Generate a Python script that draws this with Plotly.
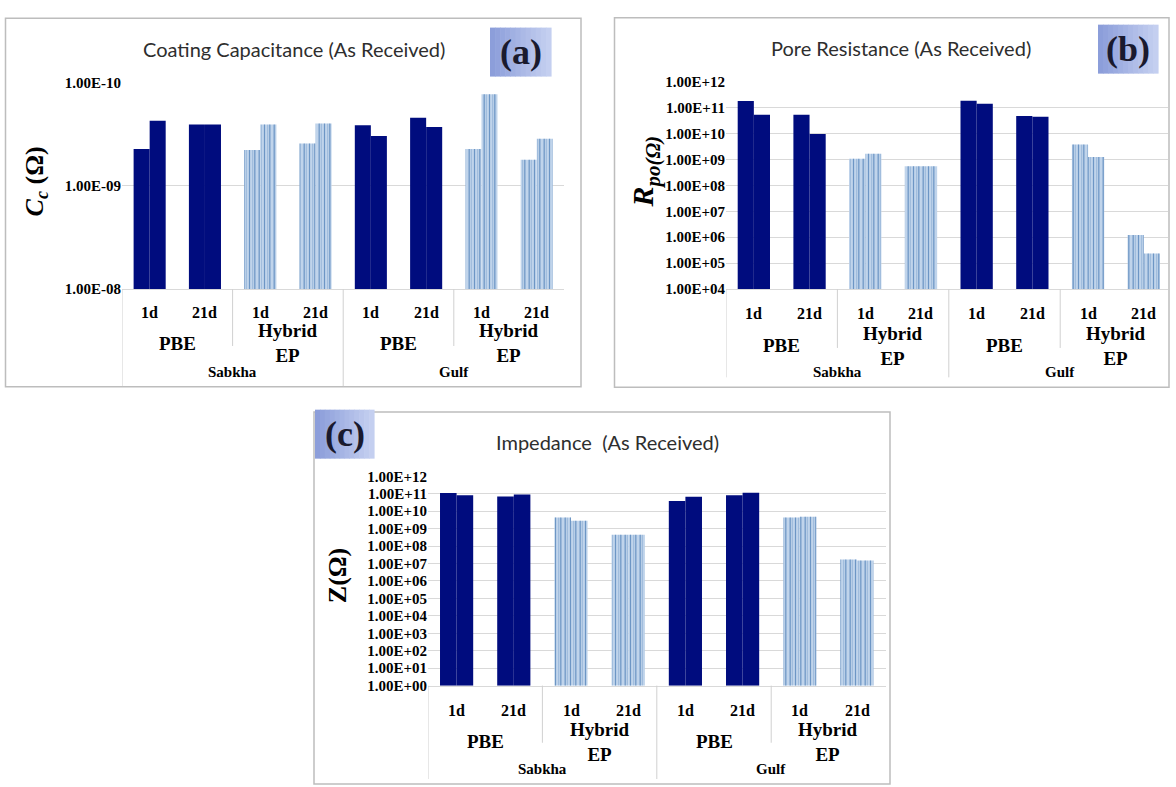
import plotly.graph_objects as go

W, H = 1176, 787

# Category structure (three-level axis: day / coating / exposure site)
days = ["1d", "21d", "1d", "21d", "1d", "21d", "1d", "21d"]
coatings = ["PBE", "Hybrid<br>EP", "PBE", "Hybrid<br>EP"]
sites = ["Sabkha", "Gulf"]
is_pbe = [True, True, False, False, True, True, False, False]

# Coating capacitance, two specimens per condition
cc_spec1 = [4.4e-10, 2.55e-10, 4.5e-10, 3.9e-10, 2.6e-10, 2.2e-10, 4.4e-10, 5.6e-10]
cc_spec2 = [2.35e-10, 2.55e-10, 2.55e-10, 2.5e-10, 3.3e-10, 2.7e-10, 1.3e-10, 3.5e-10]

# Pore resistance (ohm)
rpo_spec1 = [1.76e11, 5.2e10, 1.05e9, 5.4e8, 1.8e11, 4.65e10, 3.7e9, 1.23e6]
rpo_spec2 = [5.2e10, 9.4e9, 1.66e9, 5.4e8, 1.39e11, 4.4e10, 1.24e9, 2.35e5]

# Impedance modulus (ohm)
z_spec1 = [1.11e11, 6.9e10, 4.4e9, 4.4e8, 3.8e10, 8.2e10, 4.4e9, 1.7e7]
z_spec2 = [8.2e10, 8.9e10, 2.85e9, 4.4e8, 6.6e10, 1.15e11, 4.8e9, 1.5e7]

NAVY = "#000c7e"
HYB_BG = "#c9dbef"
HYB_FG1 = "#7a9fcc"
HYB_FG2 = "#3a6fae"
GRID = "#d9d9d9"
FRAME = "#bdbdbd"
SERIF = "Liberation Serif"
SANS = "Lato"
BAR_W = 0.29
CLEAR = "rgba(0,0,0,0)"


def fx(x):
    return x / W


def fy(y):
    return 1 - y / H


def label(text, x, y, size, family=SERIF, color="black", xref="paper", angle=0):
    return dict(text=text, x=x, y=y, xref=xref, yref="paper", showarrow=False,
                xanchor="center", yanchor="middle", textangle=angle,
                font=dict(family=family, size=size, color=color))


panels = [
    dict(tag="(a)", title="Coating Capacitance (As Received)",
         ytitle="<b><i>C<sub>c</sub></i> (Ω)</b>", ytitle_size=26,
         spec1=cc_spec1, spec2=cc_spec2, base=1e-8, exps=[-10, -9, -8],
         yrange=[-8, -10], left=122, step=55.3, right=564.4, top=76, bottom=287,
         frame=(5.5, 10.5, 581, 386.5), box=(490, 20, 551, 70),
         title_xy=(294, 42), ytitle_xy=(36, 177),
         row_day=311, row_coat=342, row_site=372, part_div=345, full_div=386),
    dict(tag="(b)", title="Pore Resistance (As Received)",
         ytitle="<b><i>R<sub>po(Ω)</sub></i></b>", ytitle_size=30,
         spec1=rpo_spec1, spec2=rpo_spec2, base=1e4, exps=list(range(4, 13)),
         yrange=[4, 12], left=726, step=55.7, right=1168, top=75, bottom=287,
         frame=(614.5, 10, 1169, 387), box=(1098, 17, 1158, 67),
         title_xy=(901, 41), ytitle_xy=(645, 167),
         row_day=312, row_coat=345, row_site=372, part_div=347, full_div=377),
    dict(tag="(c)", title="Impedance&nbsp; (As Received)",
         ytitle="<b>Z(Ω)</b>", ytitle_size=26,
         spec1=z_spec1, spec2=z_spec2, base=1.0, exps=list(range(0, 13)),
         yrange=[0, 12], left=428, step=57.2, right=885.6, top=478, bottom=691.7,
         frame=(314, 412.5, 890, 792), box=(315, 410, 374, 460),
         title_xy=(607, 443), ytitle_xy=(337, 580),
         row_day=717, row_coat=749, row_site=777, part_div=750, full_div=787),
]

fig = go.Figure()
shapes = []
annotations = []

for k, p in enumerate(panels):
    sfx = "" if k == 0 else str(k + 1)
    xref, yref = "x" + sfx, "y" + sfx
    base = p["base"]
    idx_pbe = [i for i in range(8) if is_pbe[i]]
    idx_hyb = [i for i in range(8) if not is_pbe[i]]

    for spec, shift in ((p["spec1"], -BAR_W / 2), (p["spec2"], BAR_W / 2)):
        # PBE coating: solid navy
        fig.add_trace(go.Bar(
            x=[i + shift for i in idx_pbe], y=[spec[i] - base for i in idx_pbe],
            base=base, width=BAR_W, marker=dict(color=NAVY, line=dict(width=0)),
            xaxis=xref, yaxis=yref, showlegend=False, hoverinfo="skip"))
        # Hybrid EP coating: pale blue with fine streaks...
        fig.add_trace(go.Bar(
            x=[i + shift for i in idx_hyb], y=[spec[i] - base for i in idx_hyb],
            base=base, width=BAR_W,
            marker=dict(color=HYB_BG, line=dict(width=0),
                        pattern=dict(shape="|", fgcolor=HYB_FG1, size=3, solidity=0.5)),
            xaxis=xref, yaxis=yref, showlegend=False, hoverinfo="skip"))
        # ...and a sparser layer of darker streaks on top
        fig.add_trace(go.Bar(
            x=[i + shift for i in idx_hyb], y=[spec[i] - base for i in idx_hyb],
            base=base, width=BAR_W,
            marker=dict(color=CLEAR, line=dict(width=0),
                        pattern=dict(shape="|", fgcolor=HYB_FG2, bgcolor=CLEAR,
                                     size=5, solidity=0.25)),
            xaxis=xref, yaxis=yref, showlegend=False, hoverinfo="skip"))

    xmax = (p["right"] - p["left"]) / p["step"] - 0.5
    fig.update_layout({
        "xaxis" + sfx: dict(domain=[fx(p["left"]), fx(p["right"])], range=[-0.5, xmax],
                            showgrid=False, zeroline=False, showticklabels=False,
                            showline=True, linecolor=GRID, linewidth=1,
                            anchor=yref, fixedrange=True),
        "yaxis" + sfx: dict(domain=[fy(p["bottom"]), fy(p["top"])], type="log",
                            range=p["yrange"],
                            tickvals=[10.0 ** e for e in p["exps"]],
                            ticktext=[f"1.00E{e:+03d}" for e in p["exps"]],
                            showgrid=True, gridcolor=GRID, gridwidth=1,
                            showline=False, zeroline=False, ticks="",
                            tickfont=dict(family=SERIF, size=15, color="black", weight="bold"),
                            anchor=xref, fixedrange=True),
    })

    # panel frame
    fx0, fy0, fx1, fy1 = p["frame"]
    shapes.append(dict(type="rect", xref="paper", yref="paper", x0=fx(fx0), x1=fx(fx1),
                       y0=fy(fy1), y1=fy(fy0), line=dict(color=FRAME, width=1.5),
                       fillcolor=CLEAR, layer="below"))

    # panel tag box with a soft left-to-right blue shading
    bx0, by0, bx1, by1 = p["box"]
    n_strips = 12
    c0, c1 = (140, 158, 218), (196, 207, 240)
    for s in range(n_strips):
        t = s / (n_strips - 1)
        col = tuple(round(c0[j] + (c1[j] - c0[j]) * t) for j in range(3))
        xa = bx0 + (bx1 - bx0) * s / n_strips
        xb = bx0 + (bx1 - bx0) * (s + 1) / n_strips
        shapes.append(dict(type="rect", xref="paper", yref="paper", x0=fx(xa), x1=fx(xb) + 0.0005,
                           y0=fy(by1), y1=fy(by0), line=dict(width=0),
                           fillcolor=f"rgb{col}", layer="above"))
    annotations.append(label(f"<b>{p['tag']}</b>", fx((bx0 + bx1) / 2), fy((by0 + by1) / 2),
                             36, color="#1a1a2e"))

    # chart title
    tx, ty = p["title_xy"]
    annotations.append(label(p["title"], fx(tx), fy(ty), 20, family=SANS, color="#2e2e2e"))

    # y-axis title
    ax, ay = p["ytitle_xy"]
    annotations.append(label(p["ytitle"], fx(ax), fy(ay), p["ytitle_size"], angle=-90))

    # multi-level category labels
    for i, d in enumerate(days):
        annotations.append(label(f"<b>{d}</b>", i, fy(p["row_day"]), 16, xref=xref))
    for g, c in enumerate(coatings):
        annotations.append(label(f"<b>{c}</b>", 2 * g + 0.5, fy(p["row_coat"]), 19, xref=xref))
    for s_i, s in enumerate(sites):
        annotations.append(label(f"<b>{s}</b>", 4 * s_i + 1.5, fy(p["row_site"]), 15, xref=xref))

    # category divider lines below the plot area
    for xv, full in ((-0.5, True), (1.5, False), (3.5, True), (5.5, False)):
        shapes.append(dict(type="line", xref=xref, yref="paper", x0=xv, x1=xv,
                           y0=fy(p["bottom"]), y1=fy(p["full_div"] if full else p["part_div"]),
                           line=dict(color="#d0d0d0", width=1)))

fig.update_layout(
    width=W, height=H, autosize=False,
    margin=dict(l=0, r=0, t=0, b=0),
    paper_bgcolor="white", plot_bgcolor="white",
    barmode="overlay", showlegend=False,
    shapes=shapes, annotations=annotations,
)

fig.write_html("out.html")
